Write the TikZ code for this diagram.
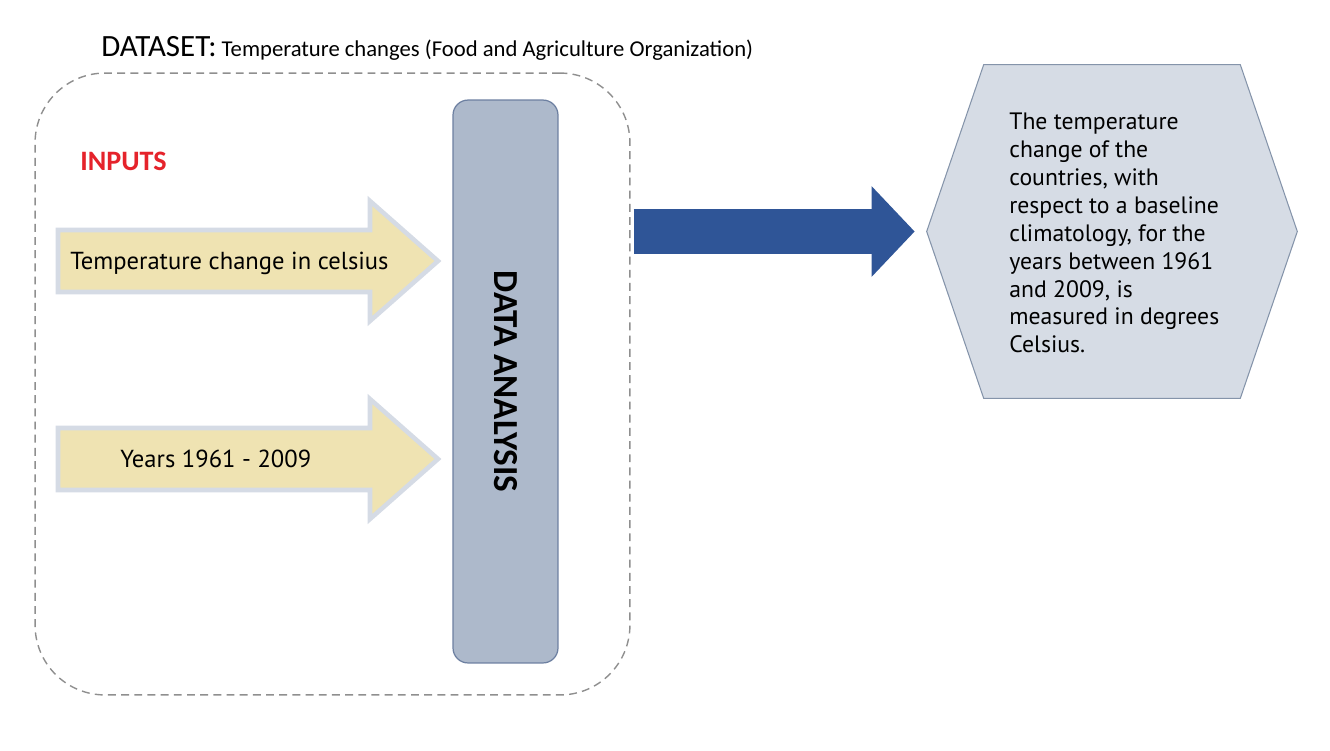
\documentclass[tikz,border=0pt]{standalone}
\usepackage{fontspec}
\setmainfont{PT Sans}
\newfontfamily\calib{Carlito}
\usetikzlibrary{arrows.meta, backgrounds, calc, positioning}
\definecolor{inFill}{HTML}{EFE3B2}
\definecolor{inEdge}{HTML}{D5DBE5}
\definecolor{barFill}{HTML}{ADB9CB}
\definecolor{barEdge}{HTML}{6D80A1}
\definecolor{outBlue}{HTML}{2F5597}
\definecolor{hexFill}{HTML}{D6DCE5}
\definecolor{hexEdge}{HTML}{8594AA}
\definecolor{frameGray}{HTML}{8F8F8F}
\definecolor{inputRed}{HTML}{E5232B}
\tikzset{
    frameBox/.style={rectangle, draw=frameGray, dash pattern=on 4.5pt off 3pt, line width=0.8pt, rounded corners=1.4cm, minimum width=11.9cm, minimum height=12.44cm},
    barBox/.style={rectangle, rounded corners=0.3cm, draw=barEdge, fill=barFill, line width=0.7pt, rotate=-90, minimum width=11.26cm, minimum height=2.1cm, font=\calib\bfseries\fontsize{20}{22}\selectfont},
    inArrow/.style={fill=inFill, draw=inEdge, line width=2.6pt},
    inText/.style={anchor=base west, inner sep=0pt, font=\fontsize{14}{16}\selectfont},
    titleText/.style={anchor=base west, inner sep=0pt, font=\calib\fontsize{12.9}{15}\selectfont},
    inputsText/.style={anchor=base west, inner sep=0pt, text=inputRed, font=\calib\bfseries\fontsize{16}{18}\selectfont},
    resultBox/.style={rectangle, inner sep=0pt, minimum width=7.4cm, minimum height=6.66cm},
    hexBox/.style={fill=hexFill, draw=hexEdge, line width=0.6pt},
    resultText/.style={anchor=north west, inner sep=0pt, align=left, font=\fontsize{13.5}{15.85}\selectfont},
    outArrow/.style={draw=outBlue, line width=0.9cm, -{Triangle[width=1.76cm, length=0.86cm]}},
}
\newcommand{\drawInput}[4]{% name, centre y, text x, text
    \draw[inArrow] (58,#2-31) -- (370,#2-31) -- (370,#2-60) -- (438,#2) -- (370,#2+60) -- (370,#2+31) -- (58,#2+31) -- cycle;
    \node[inText] (#1) at (#3,#2+8) {#4};
}

\begin{document}
\begin{tikzpicture}[x=0.02cm, y=-0.02cm]
    \useasboundingbox (0,0) rectangle (1330,751);

    \node[titleText] (title) at (101,56) {{\fontsize{17.6}{20}\selectfont DATASET:} Temperature changes (Food and Agriculture Organization)};
    \node[frameBox] (frame) at (332.5,384) {};
    \node[barBox] (analysis) at (505.5,381.5) {DATA ANALYSIS};
    \node[inputsText] (inputs) at (80,170) {INPUTS};

    \drawInput{tempIn}{261}{70}{Temperature change in celsius}
    \drawInput{yearsIn}{459}{120}{Years 1961 - 2009}

    % output hexagon
    \node[resultBox] (result) at (1112,231.5) {};
    \begin{scope}[on background layer]
        \draw[hexBox] ($(result.north west)+(57,0)$) -- ($(result.north east)+(-57,0)$) -- (result.east)
            -- ($(result.south east)+(-57,0)$) -- ($(result.south west)+(57,0)$) -- (result.west) -- cycle;
    \end{scope}
    \node[resultText] (resultText) at (1009,113) {The temperature\\change of the\\countries, with\\respect to a baseline\\climatology, for the\\years between 1961\\and 2009, is\\measured in degrees\\Celsius.};

    \draw[outArrow] ($(frame.east |- result.west)+(3,0)$) -- ($(result.west)+(-12,0)$);
\end{tikzpicture}
\end{document}
